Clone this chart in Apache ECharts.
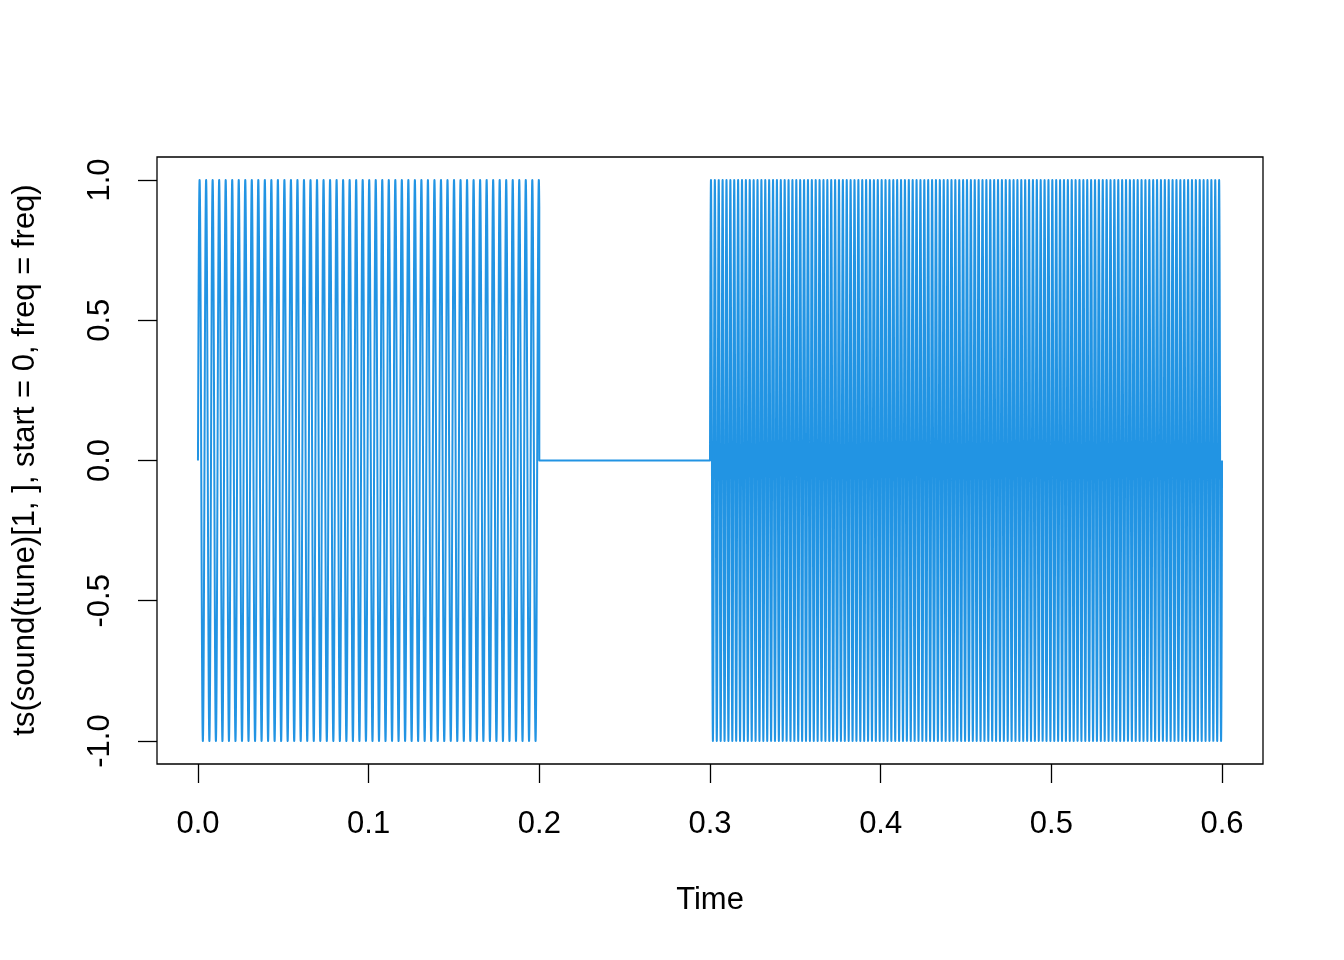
<!DOCTYPE html>
<html>
<head>
<meta charset="utf-8">
<script src="https://cdn.jsdelivr.net/npm/echarts@6/dist/echarts.min.js"></script>
<style>
html,body{margin:0;padding:0;background:#fff;}
#chart{width:1344px;height:960px;}
</style>
</head>
<body>
<div id="chart"></div>
<script>
// Tune: note start/end times (s), frequency (Hz, 0 = rest)
const noteStart = [0.0, 0.2, 0.3];
const noteEnd   = [0.2, 0.3, 0.6];
const noteFreq  = [261.63, 0, 440];
const sampleRate = 44100;
const xTicks = [0.0, 0.1, 0.2, 0.3, 0.4, 0.5, 0.6];
const yTicks = [-1.0, -0.5, 0.0, 0.5, 1.0];

// Build the sampled waveform from the notes
const wave = [];
for (let k = 0; k < noteStart.length; k++) {
  const n = Math.round((noteEnd[k] - noteStart[k]) * sampleRate);
  for (let i = 0; i < n; i++) {
    const tl = i / sampleRate;
    const v = noteFreq[k] > 0 ? Math.sin(2 * Math.PI * noteFreq[k] * tl) : 0;
    wave.push([noteStart[k] + tl, v]);
  }
}
wave.push([noteEnd[noteEnd.length - 1], 0]);

const FONT = 'Liberation Sans, Arial, Helvetica, sans-serif';
const FS = 31;
const chart = echarts.init(document.getElementById('chart'), null, {renderer: 'canvas'});
chart.setOption({
  animation: false,
  backgroundColor: '#ffffff',
  grid: {left: 157, right: 81, top: 157, bottom: 196, show: true,
         borderColor: '#000', borderWidth: 1.3, backgroundColor: 'transparent'},
  xAxis: {
    type: 'value', min: -0.024, max: 0.624,
    axisLine: {show: false, onZero: false},
    splitLine: {show: false},
    axisTick: {show: true, inside: false, length: 19, customValues: xTicks,
               lineStyle: {color: '#000', width: 1.3}},
    axisLabel: {show: true, customValues: xTicks, margin: 45,
                fontSize: FS, fontFamily: FONT, color: '#000',
                formatter: v => v.toFixed(1)}
  },
  yAxis: {
    type: 'value', min: -1.082, max: 1.082,
    axisLine: {show: false, onZero: false},
    splitLine: {show: false},
    axisTick: {show: true, inside: false, length: 19, customValues: yTicks,
               lineStyle: {color: '#000', width: 1.3}},
    axisLabel: {show: true, customValues: yTicks, margin: 41, rotate: 90,
                fontSize: FS, fontFamily: FONT, color: '#000',
                formatter: v => v.toFixed(1)}
  },
  series: [{
    type: 'custom',
    coordinateSystem: 'cartesian2d',
    data: [[0, 0]],
    encode: {x: 0, y: 1},
    silent: true,
    renderItem: function (params, api) {
      const pts = wave.map(p => api.coord(p));
      return {
        type: 'polyline',
        shape: {points: pts},
        style: {stroke: '#2294e3', lineWidth: 2, fill: null, lineJoin: 'round'}
      };
    }
  }],
  graphic: [
    {type: 'text', x: 710, y: 900,
     style: {text: 'Time', align: 'center', verticalAlign: 'middle',
             fontSize: FS, fontFamily: FONT, fill: '#000'}},
    {type: 'text', x: 25, y: 460, rotation: Math.PI / 2,
     style: {text: 'ts(sound(tune)[1, ], start = 0, freq = freq)', align: 'center',
             verticalAlign: 'middle', fontSize: FS, fontFamily: FONT, fill: '#000'}}
  ]
});
</script>
</body>
</html>
